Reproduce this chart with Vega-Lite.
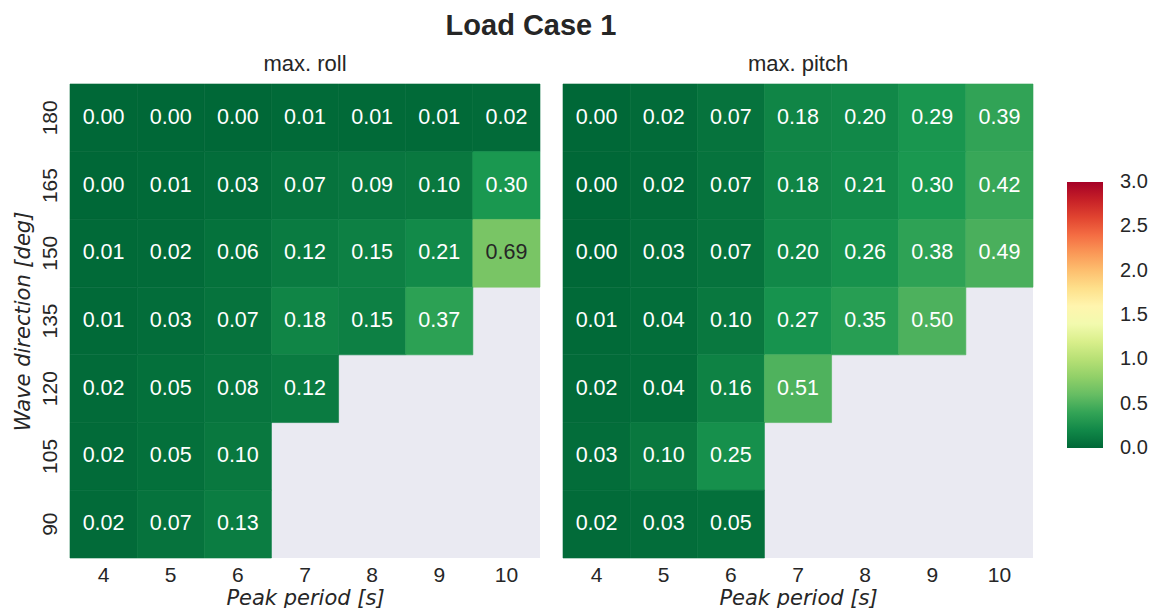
{
  "$schema": "https://vega.github.io/schema/vega-lite/v6.json",
  "background": "white",
  "padding": {"left": 12, "top": 11, "right": 5, "bottom": 0},
  "title": {
    "text": "Load Case 1",
    "fontSize": 29,
    "fontWeight": "bold",
    "font": "Liberation Sans",
    "color": "#262626",
    "anchor": "middle",
    "dx": -49,
    "offset": 12
  },
  "datasets": {
    "roll": [
      {"direction": 180, "period": 4, "value": 0.00},
      {"direction": 180, "period": 5, "value": 0.00},
      {"direction": 180, "period": 6, "value": 0.00},
      {"direction": 180, "period": 7, "value": 0.01},
      {"direction": 180, "period": 8, "value": 0.01},
      {"direction": 180, "period": 9, "value": 0.01},
      {"direction": 180, "period": 10, "value": 0.02},
      {"direction": 165, "period": 4, "value": 0.00},
      {"direction": 165, "period": 5, "value": 0.01},
      {"direction": 165, "period": 6, "value": 0.03},
      {"direction": 165, "period": 7, "value": 0.07},
      {"direction": 165, "period": 8, "value": 0.09},
      {"direction": 165, "period": 9, "value": 0.10},
      {"direction": 165, "period": 10, "value": 0.30},
      {"direction": 150, "period": 4, "value": 0.01},
      {"direction": 150, "period": 5, "value": 0.02},
      {"direction": 150, "period": 6, "value": 0.06},
      {"direction": 150, "period": 7, "value": 0.12},
      {"direction": 150, "period": 8, "value": 0.15},
      {"direction": 150, "period": 9, "value": 0.21},
      {"direction": 150, "period": 10, "value": 0.69},
      {"direction": 135, "period": 4, "value": 0.01},
      {"direction": 135, "period": 5, "value": 0.03},
      {"direction": 135, "period": 6, "value": 0.07},
      {"direction": 135, "period": 7, "value": 0.18},
      {"direction": 135, "period": 8, "value": 0.15},
      {"direction": 135, "period": 9, "value": 0.37},
      {"direction": 120, "period": 4, "value": 0.02},
      {"direction": 120, "period": 5, "value": 0.05},
      {"direction": 120, "period": 6, "value": 0.08},
      {"direction": 120, "period": 7, "value": 0.12},
      {"direction": 105, "period": 4, "value": 0.02},
      {"direction": 105, "period": 5, "value": 0.05},
      {"direction": 105, "period": 6, "value": 0.10},
      {"direction": 90, "period": 4, "value": 0.02},
      {"direction": 90, "period": 5, "value": 0.07},
      {"direction": 90, "period": 6, "value": 0.13}
    ],
    "pitch": [
      {"direction": 180, "period": 4, "value": 0.00},
      {"direction": 180, "period": 5, "value": 0.02},
      {"direction": 180, "period": 6, "value": 0.07},
      {"direction": 180, "period": 7, "value": 0.18},
      {"direction": 180, "period": 8, "value": 0.20},
      {"direction": 180, "period": 9, "value": 0.29},
      {"direction": 180, "period": 10, "value": 0.39},
      {"direction": 165, "period": 4, "value": 0.00},
      {"direction": 165, "period": 5, "value": 0.02},
      {"direction": 165, "period": 6, "value": 0.07},
      {"direction": 165, "period": 7, "value": 0.18},
      {"direction": 165, "period": 8, "value": 0.21},
      {"direction": 165, "period": 9, "value": 0.30},
      {"direction": 165, "period": 10, "value": 0.42},
      {"direction": 150, "period": 4, "value": 0.00},
      {"direction": 150, "period": 5, "value": 0.03},
      {"direction": 150, "period": 6, "value": 0.07},
      {"direction": 150, "period": 7, "value": 0.20},
      {"direction": 150, "period": 8, "value": 0.26},
      {"direction": 150, "period": 9, "value": 0.38},
      {"direction": 150, "period": 10, "value": 0.49},
      {"direction": 135, "period": 4, "value": 0.01},
      {"direction": 135, "period": 5, "value": 0.04},
      {"direction": 135, "period": 6, "value": 0.10},
      {"direction": 135, "period": 7, "value": 0.27},
      {"direction": 135, "period": 8, "value": 0.35},
      {"direction": 135, "period": 9, "value": 0.50},
      {"direction": 120, "period": 4, "value": 0.02},
      {"direction": 120, "period": 5, "value": 0.04},
      {"direction": 120, "period": 6, "value": 0.16},
      {"direction": 120, "period": 7, "value": 0.51},
      {"direction": 105, "period": 4, "value": 0.03},
      {"direction": 105, "period": 5, "value": 0.10},
      {"direction": 105, "period": 6, "value": 0.25},
      {"direction": 90, "period": 4, "value": 0.02},
      {"direction": 90, "period": 5, "value": 0.03},
      {"direction": 90, "period": 6, "value": 0.05}
    ]
  },
  "spacing": 21,
  "hconcat": [
    {
      "width": 470,
      "height": 474,
      "title": {"text": "max. roll"},
      "data": {"name": "roll"},
      "encoding": {
        "x": {
          "field": "period",
          "type": "ordinal",
          "scale": {"domain": [4, 5, 6, 7, 8, 9, 10], "paddingInner": 0, "paddingOuter": 0},
          "axis": {"title": "Peak period [s]", "labelAngle": 0}
        },
        "y": {
          "field": "direction",
          "type": "ordinal",
          "scale": {"domain": [180, 165, 150, 135, 120, 105, 90], "paddingInner": 0, "paddingOuter": 0},
          "axis": {
            "title": "Wave direction [deg]",
            "labelAngle": -90,
            "labelAlign": "center",
            "labelBaseline": "bottom",
            "labelPadding": 10,
            "titlePadding": 6
          }
        }
      },
      "layer": [
        {
          "mark": {"type": "rect", "strokeWidth": 0.6, "stroke": {"expr": "scale('color', datum.value)"}},
          "encoding": {
            "color": {
              "field": "value",
              "type": "quantitative",
              "scale": {
                "domain": [0, 0.3, 0.6, 0.9, 1.2, 1.5, 1.8, 2.1, 2.4, 2.7, 3.0],
                "range": ["#006837", "#1a9850", "#66bd63", "#a6d96a", "#d9ef8b", "#ffffbf", "#fee08b", "#fdae61", "#f46d43", "#d73027", "#a50026"],
                "interpolate": "rgb"
              },
              "legend": {
                "type": "gradient",
                "orient": "none",
                "legendX": 997,
                "legendY": 98,
                "title": null,
                "direction": "vertical",
                "gradientLength": 266,
                "gradientThickness": 36,
                "gradientStrokeWidth": 0,
                "values": [0, 0.5, 1, 1.5, 2, 2.5, 3],
                "format": ".1f",
                "labelFontSize": 20,
                "labelOffset": 17,
                "labelBaseline": "middle",
                "labelOverlap": false,
                "labelColor": "#262626",
                "labelFont": "Liberation Sans",
                "encode": {
                  "labels": {"update": {"baseline": {"value": "middle"}}}
                }
              }
            }
          }
        },
        {
          "mark": {"type": "text", "fontSize": 21.5, "font": "Liberation Sans"},
          "encoding": {
            "text": {"field": "value", "type": "quantitative", "format": ".2f"},
            "color": {
              "condition": {"test": "datum.value > 0.6", "value": "#262626"},
              "value": "white"
            }
          }
        }
      ]
    },
    {
      "width": 470,
      "height": 474,
      "title": {"text": "max. pitch"},
      "data": {"name": "pitch"},
      "encoding": {
        "x": {
          "field": "period",
          "type": "ordinal",
          "scale": {"domain": [4, 5, 6, 7, 8, 9, 10], "paddingInner": 0, "paddingOuter": 0},
          "axis": {"title": "Peak period [s]", "labelAngle": 0}
        },
        "y": {
          "field": "direction",
          "type": "ordinal",
          "scale": {"domain": [180, 165, 150, 135, 120, 105, 90], "paddingInner": 0, "paddingOuter": 0},
          "axis": null
        }
      },
      "layer": [
        {
          "mark": {"type": "rect", "strokeWidth": 0.6, "stroke": {"expr": "scale('color', datum.value)"}},
          "encoding": {
            "color": {"field": "value", "type": "quantitative"}
          }
        },
        {
          "mark": {"type": "text", "fontSize": 21.5, "font": "Liberation Sans"},
          "encoding": {
            "text": {"field": "value", "type": "quantitative", "format": ".2f"},
            "color": {
              "condition": {"test": "datum.value > 0.6", "value": "#262626"},
              "value": "white"
            }
          }
        }
      ]
    }
  ],
  "config": {
    "font": "Liberation Sans",
    "view": {"fill": "#EAEAF2", "stroke": null},
    "title": {"fontSize": 22, "fontWeight": "normal", "color": "#262626", "font": "Liberation Sans", "offset": 8},
    "axis": {
      "domain": false,
      "ticks": false,
      "grid": false,
      "labelFont": "Liberation Sans",
      "labelFontSize": 21,
      "labelColor": "#262626",
      "labelPadding": 6,
      "titleFont": "DejaVu Sans",
      "titleFontStyle": "italic",
      "titleFontWeight": "normal",
      "titleFontSize": 21,
      "titleColor": "#262626",
      "titlePadding": 2
    }
  }
}
